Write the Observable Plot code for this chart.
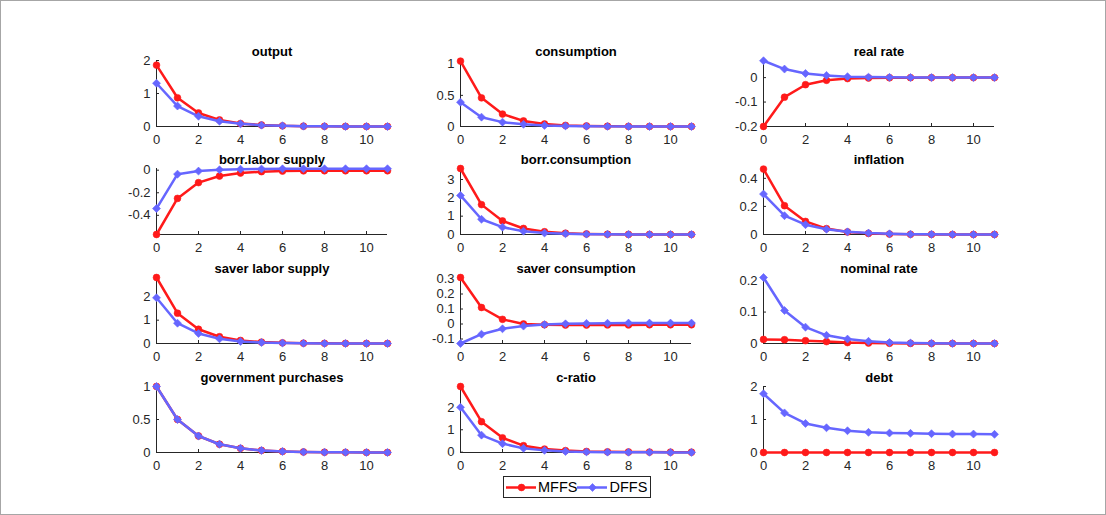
<!DOCTYPE html>
<html><head><meta charset="utf-8">
<script src="https://cdn.jsdelivr.net/npm/d3@7"></script>
<script src="https://cdn.jsdelivr.net/npm/@observablehq/plot@0.6"></script>
<style>
body{margin:0;background:#fff;}
#fig{position:relative;width:1106px;height:515px;overflow:hidden;background:#fff;font-family:"Liberation Sans",Arial,Helvetica,sans-serif;}
#frame{position:absolute;left:0;top:0;width:1104px;height:513px;border:1px solid #a6a6a6;pointer-events:none;}
.panel{position:absolute;}
.panel svg{overflow:visible;background:transparent;}
#legend{position:absolute;box-sizing:border-box;border:1px solid #262626;background:#fff;display:flex;align-items:center;color:#000;}
</style></head><body><div id="fig"><div id="frame"></div></div>
<script>
// ---- data ----
const periods = [0,1,2,3,4,5,6,7,8,9,10,11];
const seriesNames = ["MFFS", "DFFS"];
const titles = ["output","consumption","real rate","borr.labor supply","borr.consumption","inflation",
  "saver labor supply","saver consumption","nominal rate","government purchases","c-ratio","debt"];

const mffs_output = [1.86,0.87,0.41,0.20,0.09,0.045,0.02,0.01,0.005,0.002,0.001,0];
const dffs_output = [1.31,0.62,0.31,0.16,0.08,0.04,0.02,0.01,0.005,0.002,0.001,0];
const mffs_consumption = [1.05,0.46,0.20,0.09,0.04,0.018,0.008,0.004,0.002,0.001,0,0];
const dffs_consumption = [0.39,0.15,0.07,0.035,0.018,0.009,0.004,0.002,0.001,0,0,0];
const mffs_realrate = [-0.2,-0.08,-0.029,-0.011,-0.004,-0.0015,-0.0006,-0.0002,0,0,0,0];
const dffs_realrate = [0.069,0.035,0.017,0.009,0.004,0.002,0.001,0.0005,0,0,0,0];
const mffs_borrlabor = [-0.57,-0.25,-0.11,-0.052,-0.025,-0.013,-0.008,-0.006,-0.005,-0.005,-0.005,-0.005];
const dffs_borrlabor = [-0.34,-0.035,-0.008,0.004,0.009,0.011,0.012,0.012,0.013,0.013,0.013,0.013];
const mffs_borrcons = [3.6,1.63,0.74,0.33,0.15,0.07,0.03,0.014,0.006,0.003,0.001,0];
const dffs_borrcons = [2.13,0.83,0.40,0.18,0.08,0.04,0.02,0.01,0.004,0.002,0.001,0];
const mffs_inflation = [0.466,0.205,0.093,0.042,0.018,0.008,0.003,0.001,0.0005,0,0,0];
const dffs_inflation = [0.288,0.134,0.07,0.037,0.019,0.01,0.005,0.002,0.001,0.0005,0,0];
const mffs_saverlabor = [2.83,1.30,0.61,0.29,0.13,0.06,0.03,0.013,0.006,0.003,0.001,0];
const dffs_saverlabor = [1.96,0.87,0.43,0.20,0.09,0.04,0.02,0.009,0.004,0.002,0.001,0];
const mffs_savercons = [0.31,0.11,0.031,0.0,-0.005,-0.007,-0.007,-0.006,-0.006,-0.005,-0.005,-0.005];
const dffs_savercons = [-0.13,-0.068,-0.032,-0.014,-0.004,0.001,0.004,0.005,0.006,0.006,0.006,0.006];
const mffs_nominal = [0.013,0.012,0.009,0.006,0.003,0.0015,0.0007,0.0003,0,0,0,0];
const dffs_nominal = [0.21,0.105,0.052,0.026,0.014,0.007,0.003,0.0015,0.0007,0.0003,0,0];
const mffs_gov = [1,0.5,0.25,0.125,0.063,0.031,0.016,0.008,0.004,0.002,0.001,0.0005];
const dffs_gov = [1,0.5,0.25,0.125,0.063,0.031,0.016,0.008,0.004,0.002,0.001,0.0005];
const mffs_cratio = [2.93,1.36,0.64,0.29,0.14,0.07,0.03,0.015,0.007,0.003,0.001,0];
const dffs_cratio = [2.0,0.76,0.38,0.17,0.08,0.03,0.01,0,-0.005,-0.008,-0.01,-0.01];
const mffs_debt = [0,0,0,0,0,0,0,0,0,0,0,0];
const dffs_debt = [1.78,1.20,0.88,0.75,0.66,0.61,0.59,0.58,0.57,0.56,0.56,0.55];

const mffsSeries = [mffs_output,mffs_consumption,mffs_realrate,mffs_borrlabor,mffs_borrcons,mffs_inflation,
  mffs_saverlabor,mffs_savercons,mffs_nominal,mffs_gov,mffs_cratio,mffs_debt];
const dffsSeries = [dffs_output,dffs_consumption,dffs_realrate,dffs_borrlabor,dffs_borrcons,dffs_inflation,
  dffs_saverlabor,dffs_savercons,dffs_nominal,dffs_gov,dffs_cratio,dffs_debt];

const xTicks = [0,2,4,6,8,10];
const yTicks = [[0,1,2],[0,0.5,1],[-0.2,-0.1,0],[-0.4,-0.2,0],[0,1,2,3],[0,0.2,0.4],
  [0,1,2],[-0.1,0,0.1,0.2,0.3],[0,0.1,0.2],[0,0.5,1],[0,1,2],[0,1,2]];
const yDomains = [[0,2],[0,1.06],[-0.2,0.07],[-0.57,0.015],[0,3.6],[0,0.47],
  [0,2.83],[-0.13,0.31],[0,0.21],[0,1],[-0.015,2.93],[0,2]];

// ---- layout / style ----
const RED = "#ff1a1a", BLUE = "#6666ff", AXIS = "#262626";
const colLeft = [156, 460, 763], plotW = 231;
const rowTop = [60, 168, 277, 386], plotH = 66;
const mL = 48, mR = 20, mT = 22, mB = 24;
const fmt = d => String(d);
const fig = document.getElementById("fig");

titles.forEach((title, i) => {
  const col = i % 3, row = Math.floor(i / 3);
  const rows = periods.map((p, k) => ({p, m: mffsSeries[i][k], d: dffsSeries[i][k]}));
  const yd = yDomains[i];
  const chart = Plot.plot({
    width: mL + plotW + mR, height: mT + plotH + mB,
    marginLeft: mL, marginRight: mR, marginTop: mT, marginBottom: mB,
    style: {fontFamily: '"Liberation Sans",Arial,Helvetica,sans-serif', fontSize: "13px", color: AXIS, background: "transparent", overflow: "visible"},
    x: {domain: [0, 11], label: null},
    y: {domain: yd, label: null},
    marks: [
      Plot.ruleX([0], {stroke: AXIS, strokeWidth: 1}),
      Plot.ruleY([yd[0]], {stroke: AXIS, strokeWidth: 1}),
      Plot.ruleX(xTicks, {x: d => d, insetTop: plotH - 3, stroke: AXIS}),
      Plot.ruleY(yTicks[i], {y: d => d, insetRight: plotW - 3, stroke: AXIS}),
      Plot.axisX(xTicks, {tickSize: 0, tickPadding: 8, tickFormat: fmt, fill: AXIS, fontSize: 13, label: null}),
      Plot.axisY(yTicks[i], {tickSize: 0, tickPadding: 6, tickFormat: fmt, fill: AXIS, fontSize: 13, label: null}),
      Plot.line(rows, {x: "p", y: "m", stroke: RED, strokeWidth: 2.5}),
      Plot.dot(rows, {x: "p", y: "m", fill: RED, stroke: RED, strokeWidth: 0.6, r: 3.4, symbol: "circle"}),
      Plot.line(rows, {x: "p", y: "d", stroke: BLUE, strokeWidth: 2.5}),
      Plot.dot(rows, {x: "p", y: "d", fill: BLUE, stroke: BLUE, strokeWidth: 0.6, r: 3.6, symbol: "diamond2"}),
      Plot.text([title], {frameAnchor: "top", dy: -14, fontWeight: "bold", fontSize: 13, fill: "#000"})
    ]
  });
  const div = document.createElement("div");
  div.className = "panel";
  div.style.left = (colLeft[col] - mL) + "px";
  div.style.top = (rowTop[row] - mT) + "px";
  div.appendChild(chart);
  fig.appendChild(div);
});

// ---- legend ----
const legend = document.createElement("div");
legend.id = "legend";
Object.assign(legend.style, {left: "503px", top: "476px", width: "148px", height: "22px", fontSize: "14.5px"});
const colors = [RED, BLUE], symbols = ["circle", "diamond2"];
seriesNames.forEach((name, j) => {
  const sw = Plot.plot({
    width: 30, height: 14, margin: 0,
    x: {domain: [0, 1]}, y: {domain: [0, 1]}, axis: null,
    style: {background: "transparent", overflow: "visible"},
    marks: [
      Plot.ruleY([0.5], {stroke: colors[j], strokeWidth: 2.5}),
      Plot.dot([0.5], {x: d => d, y: 0.5, fill: colors[j], stroke: colors[j], strokeWidth: 0.6, r: j ? 3.6 : 3.4, symbol: symbols[j]})
    ]
  });
  sw.style.marginLeft = j ? "0px" : "2px";
  sw.style.marginRight = "2px";
  legend.appendChild(sw);
  const span = document.createElement("span");
  span.textContent = name;
  legend.appendChild(span);
});
fig.appendChild(legend);
</script></body></html>
